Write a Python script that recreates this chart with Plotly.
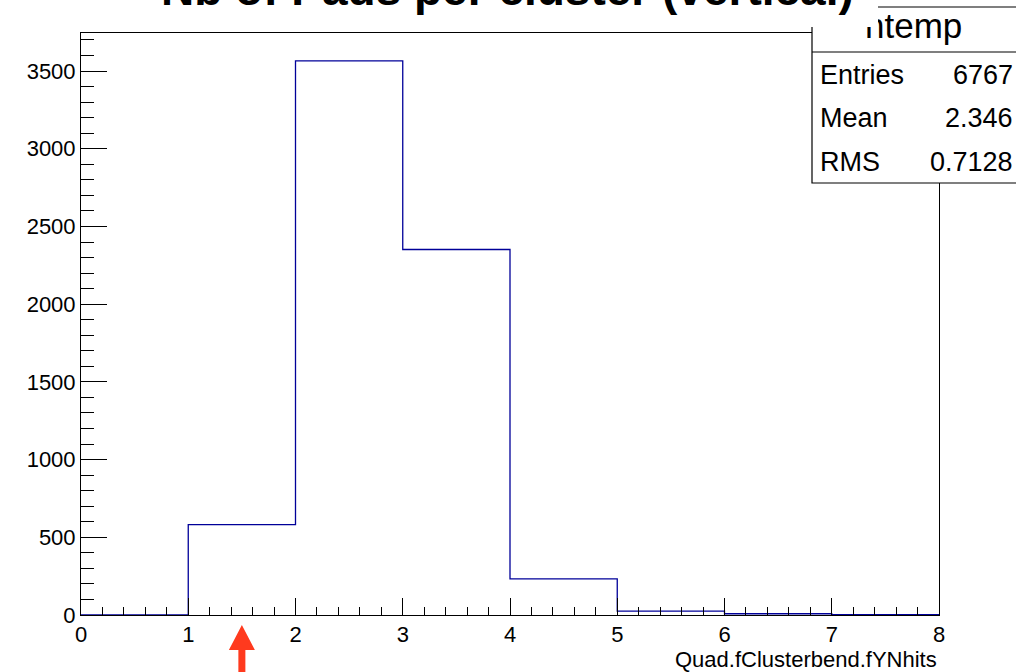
import plotly.graph_objects as go

# ---- data ----
bin_edges = [0, 1, 2, 3, 4, 5, 6, 7, 8]
counts = [0, 581, 3565, 2352, 233, 25, 8, 3]
x_range = [0, 8]
y_range = [0, 3745]
title_text = "Nb of Pads per cluster (vertical)"
hist_name = "htemp"
stats_labels = ["Entries", "Mean", "RMS"]
stats_values = ["6767", "2.346", "0.7128"]
x_title = "Quad.fClusterbend.fYNhits"
arrow_x = 1.5

# ---- layout geometry (pixels) ----
W, H = 1016, 672
L, R, T, B = 81, 77, 33, 57
PW, PH = W - L - R, H - T - B


def px(xpix):
    return (xpix - L) / PW


def py(ypix):
    return (H - B - ypix) / PH


FONT = "Liberation Sans, Arial, Helvetica, sans-serif"
LINE_COL = "#000099"

fig = go.Figure()
fig.add_trace(go.Scatter(
    x=bin_edges,
    y=counts + [counts[-1]],
    mode="lines",
    line=dict(shape="hv", color=LINE_COL, width=1.3),
    hoverinfo="skip",
    showlegend=False,
))

shapes = []
# stats box
shapes.append(dict(type="rect", xref="paper", yref="paper",
                   x0=px(812), x1=px(1030), y0=py(183), y1=py(7),
                   line=dict(color="black", width=1.2), fillcolor="white", layer="above"))
shapes.append(dict(type="line", xref="paper", yref="paper",
                   x0=px(812), x1=px(1030), y0=py(52), y1=py(52),
                   line=dict(color="black", width=1.2), layer="above"))
# red arrow under x axis (anchored at arrow_x on the x scale)
arrow_paper_x = (arrow_x - x_range[0]) / (x_range[1] - x_range[0])
shapes.append(dict(type="path", xref="paper", yref="paper", xsizemode="pixel", ysizemode="pixel",
                   xanchor=arrow_paper_x, yanchor=0,
                   path="M 0,-10 L 13,-35 L 3.5,-35 L 3.5,-70 L -3.5,-70 L -3.5,-35 L -13,-35 Z",
                   fillcolor="#ff3a1e", line=dict(width=0), layer="above"))

annotations = []
annotations.append(dict(text=hist_name, xref="paper", yref="paper", x=px(913), y=py(25),
                        xanchor="center", yanchor="middle", showarrow=False,
                        font=dict(family=FONT, size=35, color="black")))
rows_y = [75, 118, 162]
for lab, val, yy in zip(stats_labels, stats_values, rows_y):
    annotations.append(dict(text=lab, xref="paper", yref="paper", x=px(818), y=py(yy),
                            xanchor="left", yanchor="middle", showarrow=False,
                            font=dict(family=FONT, size=27, color="black")))
    annotations.append(dict(text=val, xref="paper", yref="paper", x=px(1015), y=py(yy),
                            xanchor="right", yanchor="middle", showarrow=False,
                            font=dict(family=FONT, size=27, color="black")))
# white title pad (covers top-left of stats box like ROOT's title box)
annotations.append(dict(text=" ", xref="paper", yref="paper", x=px(489), y=py(27),
                        xanchor="center", yanchor="bottom", showarrow=False,
                        width=778, height=60, bgcolor="white", borderpad=0, borderwidth=0,
                        font=dict(family=FONT, size=10)))
annotations.append(dict(text="<b>" + title_text + "</b>", xref="paper", yref="paper",
                        x=px(507), y=py(-11), xanchor="center", yanchor="middle",
                        showarrow=False, font=dict(family=FONT, size=46, color="black")))
annotations.append(dict(text=x_title, xref="paper", yref="paper", x=1.0, y=py(659),
                        xanchor="right", yanchor="middle", showarrow=False,
                        font=dict(family=FONT, size=22, color="black")))

fig.update_layout(
    width=W, height=H,
    margin=dict(l=L, r=R, t=T, b=B, pad=0),
    paper_bgcolor="white", plot_bgcolor="white",
    shapes=shapes, annotations=annotations,
    font=dict(family=FONT, color="black"),
    showlegend=False,
)
fig.update_xaxes(range=x_range, dtick=1, tick0=0, ticks="inside", ticklen=17, tickwidth=1,
                 tickcolor="black", showline=True, linecolor="black", linewidth=1,
                 mirror=True, showgrid=False, zeroline=False,
                 tickfont=dict(family=FONT, size=22, color="black"),
                 minor=dict(dtick=0.2, ticks="inside", ticklen=8, tickcolor="black", showgrid=False))
fig.update_yaxes(range=y_range, dtick=500, tick0=0, ticks="inside", ticklen=26, tickwidth=1,
                 tickcolor="black", showline=True, linecolor="black", linewidth=1,
                 mirror=True, showgrid=False, zeroline=False,
                 tickfont=dict(family=FONT, size=22, color="black"),
                 minor=dict(dtick=100, ticks="inside", ticklen=13, tickcolor="black", showgrid=False))

fig.write_html("out.html")
